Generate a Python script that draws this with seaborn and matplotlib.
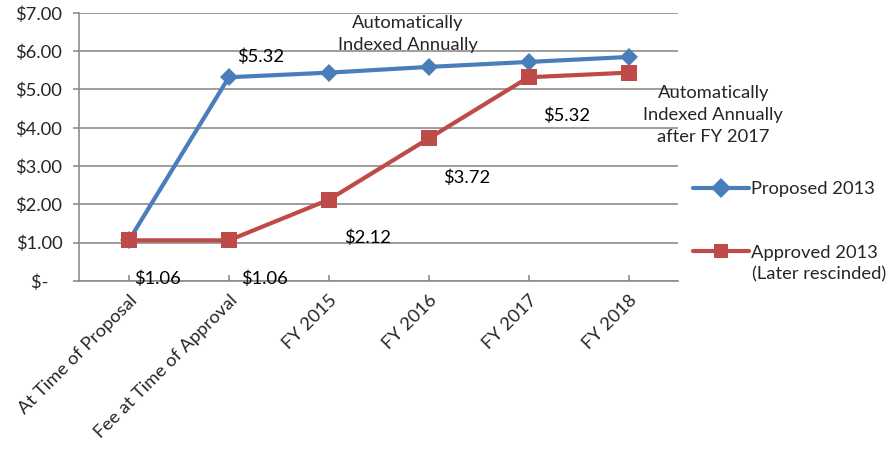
import matplotlib
matplotlib.use("Agg")
import matplotlib.pyplot as plt
import seaborn as sns
import pandas as pd

categories = ["At Time of Proposal", "Fee at Time of Approval", "FY 2015", "FY 2016", "FY 2017", "FY 2018"]
proposed = [1.06, 5.32, 5.44, 5.59, 5.72, 5.85]
approved = [1.06, 1.06, 2.12, 3.72, 5.32, 5.44]
series_names = ["Proposed 2013", "Approved 2013"]
legend_note = "(Later rescinded)"
yticks = [0, 1, 2, 3, 4, 5, 6, 7]
ytick_labels = ["$-   ", "$1.00", "$2.00", "$3.00", "$4.00", "$5.00", "$6.00", "$7.00"]

sns.set_theme(style="white")
plt.rcParams["font.family"] = ["Lato", "DejaVu Sans"]
FS = 13.2

df = pd.DataFrame({
    "cat": categories * 2,
    "val": proposed + approved,
    "series": [series_names[0]] * len(categories) + [series_names[1]] * len(categories),
})

fig = plt.figure(figsize=(8.92, 4.62), dpi=100)
ax = fig.add_axes([0.0886, 0.392, 0.672, 0.58])

blue = "#4A7EBB"
red = "#BE4B48"
sns.lineplot(data=df, x="cat", y="val", hue="series", style="series",
             markers={series_names[0]: "D", series_names[1]: "s"}, dashes=False,
             palette={series_names[0]: blue, series_names[1]: red},
             linewidth=3.0, markersize=10, markeredgewidth=0, ax=ax, sort=False)
for ln in ax.get_lines():
    if ln.get_marker() == "s":
        ln.set_markersize(11)
    elif ln.get_marker() == "D":
        ln.set_markersize(9)

ax.set_xlim(-0.5, 5.5)
ax.set_ylim(0, 7)
ax.set_yticks(yticks)
ax.set_yticklabels(ytick_labels, fontsize=FS)
ax.yaxis.grid(True, color="#8C8C8C", linewidth=1.2)
ax.set_axisbelow(True)
for s in ["top", "right"]:
    ax.spines[s].set_visible(False)
for s in ["left", "bottom"]:
    ax.spines[s].set_color("#8C8C8C")
    ax.spines[s].set_linewidth(1.2)
ax.tick_params(axis="y", left=True, length=4, color="#8C8C8C", width=1.2, direction="out", pad=8)
ax.tick_params(axis="x", bottom=True, length=4, color="#8C8C8C", width=1.2, direction="in", pad=8)
ax.set_xticks(range(len(categories)))
ax.set_xticklabels(categories, rotation=45, ha="right", rotation_mode="anchor", fontsize=FS)
ax.set_xlabel("")
ax.set_ylabel("")

# data labels
lab_kw = dict(fontsize=FS, color="black", ha="center", va="center")
ax.text(0.28, 0.05, "$1.06", **lab_kw)
ax.text(1.36, 0.05, "$1.06", **lab_kw)
ax.text(1.32, 5.85, "$5.32", **lab_kw)
ax.text(2.39, 1.12, "$2.12", **lab_kw)
ax.text(3.38, 2.70, "$3.72", **lab_kw)
ax.text(4.38, 4.31, "$5.32", **lab_kw)
ax.text(2.79, 6.46, "Automatically\nIndexed Annually", ha="center", va="center",
        fontsize=FS, linespacing=1.45)
ax.text(5.85, 4.33, "Automatically\nIndexed Annually\nafter FY 2017", ha="center", va="center",
        fontsize=FS, linespacing=1.45, clip_on=False)

leg = ax.legend(loc="upper left", bbox_to_anchor=(1.012, 0.40), frameon=False,
                fontsize=FS, labelspacing=2.6, handlelength=3.05, handletextpad=0.1,
                borderaxespad=0)
for h in leg.legend_handles:
    h.set_markersize(10)
ax.text(1.123, 0.025, legend_note, transform=ax.transAxes, fontsize=FS, ha="left", va="center",
        clip_on=False)

fig.savefig("out.png", dpi=100)
